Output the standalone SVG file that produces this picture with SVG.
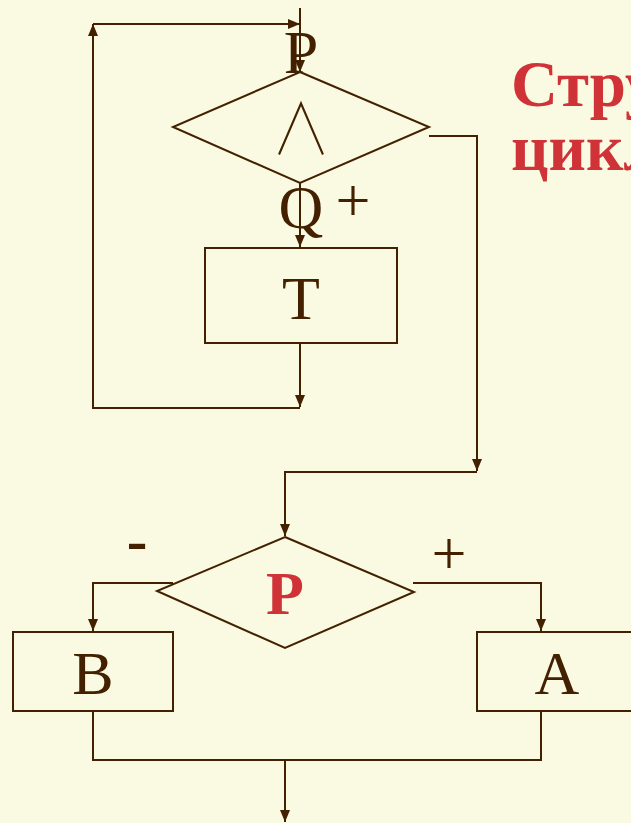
<svg xmlns="http://www.w3.org/2000/svg" width="631" height="823" viewBox="0 0 631 823">
  <defs>
    <marker id="arrow" viewBox="0 0 12 10" refX="12" refY="5" markerWidth="12" markerHeight="10" markerUnits="userSpaceOnUse" orient="auto">
      <path d="M0,0 L12,5 L0,10 Z" fill="#432100"/>
    </marker>
  </defs>
  <style>
    .shape { fill: none; stroke: #432100; stroke-width: 2; }
    .line { fill: none; stroke: #432100; stroke-width: 2; }
    .lbl { font-family: "Liberation Serif", "Times New Roman", serif; font-size: 62px; fill: #432100; text-anchor: middle; }
    .red { font-family: "Liberation Serif", "Times New Roman", serif; font-weight: bold; fill: #D03337; }
    .op { font-family: "Noto Sans CJK SC", sans-serif; font-weight: 100; font-size: 70px; fill: #432100; text-anchor: middle; }
  </style>
  <rect width="631" height="823" fill="#FAF9E2"/>

  <!-- title -->
  <g id="title">
    <text class="red" x="511" y="106" font-size="65">Стру</text>
    <text class="red" x="511" y="170" font-size="65">цикл</text>
  </g>

  <!-- loop condition: P AND Q -->
  <g id="cond-loop">
    <polygon class="shape" points="300,72 429,127 300,183 173,127"/>
    <text class="op" transform="translate(301,155) scale(0.85,1)" x="0" y="0">∧</text>
  </g>

  <g id="label-p">
    <text class="lbl" x="301" y="73">P</text>
  </g>
  <g id="label-q">
    <text class="lbl" x="301" y="228">Q</text>
  </g>
  <g id="label-plus-top">
    <text class="lbl" x="353" y="221">+</text>
  </g>

  <!-- loop body -->
  <g id="body-t">
    <rect class="shape" x="205" y="248" width="192" height="95"/>
    <text class="lbl" x="301" y="319">T</text>
  </g>

  <!-- branch condition -->
  <g id="cond-branch">
    <polygon class="shape" points="285,537 414,592 285,648 157,591"/>
    <text class="red" x="285" y="614" font-size="62" text-anchor="middle">P</text>
  </g>
  <g id="label-minus">
    <text x="137" y="561" font-family="Liberation Serif, serif" font-weight="bold" font-size="62" fill="#432100" text-anchor="middle">-</text>
  </g>
  <g id="label-plus-branch">
    <text class="lbl" x="449" y="574">+</text>
  </g>

  <g id="box-b">
    <rect class="shape" x="13" y="632" width="160" height="79"/>
    <text class="lbl" x="93" y="694">B</text>
  </g>
  <g id="box-a">
    <rect class="shape" x="477" y="632" width="170" height="79"/>
    <text class="lbl" x="557" y="694">A</text>
  </g>

  <!-- connectors -->
  <g id="connectors">
    <path class="line" d="M300,8 V72" marker-end="url(#arrow)"/>
    <path class="line" d="M300,183 V247" marker-end="url(#arrow)"/>
    <path class="line" d="M300,343 V407" marker-end="url(#arrow)"/>
    <path class="line" d="M300,408 H93 V24" marker-end="url(#arrow)"/>
    <path class="line" d="M93,24 H300" marker-end="url(#arrow)"/>
    <path class="line" d="M429,136 H477 V471" marker-end="url(#arrow)"/>
    <path class="line" d="M477,472 H285 V536" marker-end="url(#arrow)"/>
    <path class="line" d="M173,583 H93 V631" marker-end="url(#arrow)"/>
    <path class="line" d="M413,583 H541 V631" marker-end="url(#arrow)"/>
    <path class="line" d="M93,711 V760 H541 V711"/>
    <path class="line" d="M285,760 V822" marker-end="url(#arrow)"/>
  </g>
</svg>
